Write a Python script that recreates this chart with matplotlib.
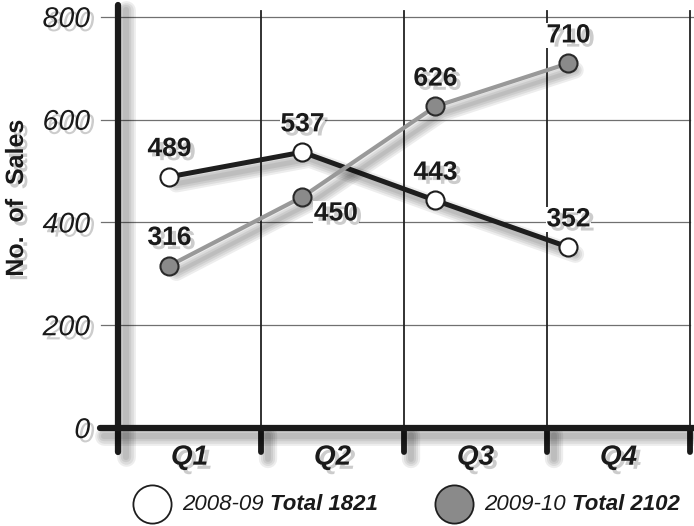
import matplotlib
matplotlib.use("Agg")
import matplotlib.pyplot as plt
import matplotlib.patheffects as pe
import numpy as np

# ---- data ----
quarters = ["Q1", "Q2", "Q3", "Q4"]
sales_0809 = [489, 537, 443, 352]
sales_0910 = [316, 450, 626, 710]
yticks = [0, 200, 400, 600, 800]
legend_years = ["2008-09", "2009-10"]
legend_totals = ["Total 1821", "Total 2102"]

W, H = 694, 526
fig = plt.figure(figsize=(W / 100, H / 100), dpi=100)
fig.patch.set_facecolor("white")
ax = fig.add_axes([118 / W, 98 / H, 572 / W, 411 / H])
ax.set_xlim(0, 4)
ax.set_ylim(0, 800)
ax.set_facecolor("white")
for s in ax.spines.values():
    s.set_visible(False)

def shadow_line(lw, off=(5, -5)):
    return [pe.SimpleLineShadow(offset=off, shadow_color="#000000", alpha=0.07, linewidth=lw + k)
            for k in (0, 3, 6, 9)] + [pe.Normal()]

text_shadow = [pe.SimplePatchShadow(offset=(3, -3), shadow_rgbFace="#000000", alpha=0.2), pe.Normal()]

# horizontal gridlines
for v in yticks[1:]:
    ax.axhline(v, xmin=-0.03, xmax=1.01 if v == 800 else 1.0, color="#707070", lw=0.9,
               clip_on=False, zorder=1)

# vertical band lines
n = len(quarters)
for i in range(1, n + 1):
    ax.axvline(i, ymin=0, ymax=1.015, color="#222222", lw=1.3, clip_on=False, zorder=1.5)
    ax.axvline(i, ymin=-0.058, ymax=0, color="#1a1a1a", lw=4.2, clip_on=False,
               solid_capstyle="round", zorder=3, path_effects=shadow_line(4.2))

# main axes lines
ax.axvline(0, ymin=-0.058, ymax=1.03, color="#1a1a1a", lw=4.5, clip_on=False,
           solid_capstyle="round", zorder=3, path_effects=shadow_line(4.5, (6, -4)))
ax.axhline(0, xmin=-0.031, xmax=1.01, color="#1a1a1a", lw=4.5, clip_on=False,
           solid_capstyle="round", zorder=3, path_effects=shadow_line(4.5, (3, -6)))

# point positions within bands
idx = np.arange(n)
px = 0.36 + 0.93 * idx

ax.plot(px, sales_0809, color="#1e1e1e", lw=3.6, zorder=4, solid_capstyle="round",
        path_effects=shadow_line(3.6))
ax.plot(px, sales_0910, color="#999999", lw=3.0, zorder=4, solid_capstyle="round",
        path_effects=shadow_line(3.0))
ax.plot(px, sales_0809, ls="none", marker="o", ms=13, mfc="white", mec="#1e1e1e", mew=1.5, zorder=5)
ax.plot(px, sales_0910, ls="none", marker="o", ms=13, mfc="#8a8a8a", mec="#2a2a2a", mew=1.5, zorder=5)

lbl_kw = dict(fontsize=19, fontweight="bold", family="Liberation Sans", color="#1a1a1a",
              ha="center", va="center", zorder=6, path_effects=text_shadow,
              bbox=dict(facecolor="white", edgecolor="none", pad=0.5))
for x, v in zip(px, sales_0809):
    ax.annotate(str(v), (x, v), xytext=(0, 20), textcoords="offset points", **lbl_kw)
for i, (x, v) in enumerate(zip(px, sales_0910)):
    off = (24, -12) if i == 1 else (0, 20)
    ax.annotate(str(v), (x, v), xytext=off, textcoords="offset points", **lbl_kw)

# ticks
ax.set_yticks(yticks)
ax.set_yticklabels([str(t) for t in yticks], fontsize=20.5, fontstyle="italic",
                   family="Liberation Sans", color="#1a1a1a")
ax.set_xticks(idx + 0.5)
ax.set_xticklabels(quarters, fontsize=20, fontstyle="italic", fontweight="bold",
                   family="Liberation Sans", color="#1a1a1a")
ax.tick_params(axis="y", length=0, pad=20)
ax.tick_params(axis="x", length=0, pad=12)
for t in ax.get_xticklabels() + ax.get_yticklabels():
    t.set_path_effects(text_shadow)

fig.text(16 / W, 1 - 198 / H, "No.  of  Sales", rotation=90, ha="center", va="center",
         fontsize=18, fontweight="bold", family="Liberation Sans", color="#1a1a1a",
         path_effects=text_shadow)

# legend
leg_y = 1 - 504 / H
mk_x = [152 / W, 454 / W]
fills = ["white", "#8a8a8a"]
for mx, fc in zip(mk_x, fills):
    fig.add_artist(matplotlib.lines.Line2D([mx], [leg_y], marker="o", ms=27.5, mfc=fc,
                                           mec="#1e1e1e", mew=1.3, transform=fig.transFigure))
fig.canvas.draw()
r = fig.canvas.get_renderer()
for mx, yr, tot in zip(mk_x, legend_years, legend_totals):
    t1 = fig.text(mx + 30 / W, leg_y, yr + " ", fontsize=16, fontstyle="italic",
                  family="Liberation Sans", color="#1a1a1a", ha="left", va="center")
    bb = t1.get_window_extent(renderer=r)
    fig.text(bb.x1 / W, leg_y, tot, fontsize=16, fontstyle="italic", fontweight="bold",
             family="Liberation Sans", color="#1a1a1a", ha="left", va="center")

fig.savefig("out.png", dpi=100, facecolor="white")
